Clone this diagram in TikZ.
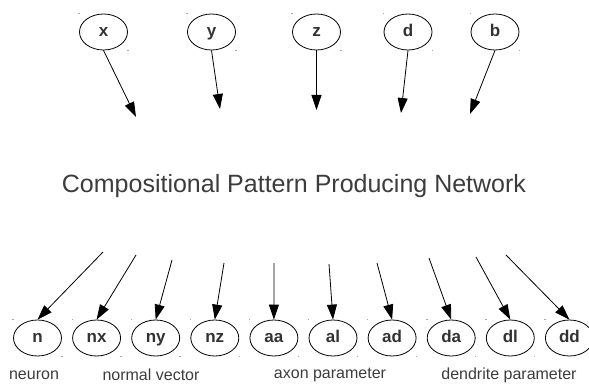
\documentclass[tikz,border=0pt]{standalone}
\usepackage{fontspec}
\setmainfont{Liberation Sans}
\usepackage{tikz}
\usetikzlibrary{positioning, arrows.meta, shapes.geometric}
\definecolor{txtColor}{RGB}{60,60,60}
\definecolor{nodeTxt}{RGB}{50,50,50}
\tikzset{
    paramnode/.style={
        ellipse,
        draw,
        line width=0.8pt,
        minimum width=48pt,
        minimum height=36pt,
        inner sep=0pt,
        text height=12pt,
        text depth=3.5pt,
        text=nodeTxt,
        font=\fontsize{17}{19}\selectfont\bfseries
    },
    ptr/.style={
        -{Triangle[length=15pt, width=10pt]},
        line width=0.8pt
    },
    grp/.style={
        text=txtColor,
        font=\fontsize{16}{18}\selectfont
    },
    cornerdot/.style={fill=gray!70}
}

\begin{document}
\begin{tikzpicture}[x=1pt, y=-1pt]
    \useasboundingbox (0,0) rectangle (589,385);

    % inputs
    \node[paramnode] (x) at (103.5,32) {x};
    \node[paramnode] (y) at (211.5,32) {y};
    \node[paramnode] (z) at (316.5,32) {z};
    \node[paramnode] (d) at (408,32) {d};
    \node[paramnode] (b) at (495,32) {b};

    \coordinate (xe) at (136,117);
    \coordinate (ye) at (220,109);
    \coordinate (ze) at (316.5,110);
    \coordinate (de) at (401,113);
    \coordinate (be) at (470,114);

    \draw[ptr] (x.south) -- (xe);
    \draw[ptr] (y.south) -- (ye);
    \draw[ptr] (z.south) -- (ze);
    \draw[ptr] (d.south) -- (de);
    \draw[ptr] (b.south) -- (be);

    \node[text=txtColor, font=\fontsize{25}{28}\selectfont] (cppn) at (294,186)
        {Compositional Pattern Producing Network};

    % outputs
    \node[paramnode] (n) at (37.5,338) {n};
    \node[paramnode, right=10.3pt of n] (nx) {nx};
    \node[paramnode, right=10.3pt of nx] (ny) {ny};
    \node[paramnode, right=10.3pt of ny] (nz) {nz};
    \node[paramnode, right=10.3pt of nz] (aa) {aa};
    \node[paramnode, right=10.3pt of aa] (al) {al};
    \node[paramnode, right=10.3pt of al] (ad) {ad};
    \node[paramnode, right=10.3pt of ad] (da) {da};
    \node[paramnode, right=10.3pt of da] (dl) {dl};
    \node[paramnode, right=10.3pt of dl] (dd) {dd};

    \coordinate (ns) at (103,252);
    \coordinate (nxs) at (136,255);
    \coordinate (nys) at (172,260);
    \coordinate (nzs) at (224,263);
    \coordinate (aas) at (274,263);
    \coordinate (als) at (329,264);
    \coordinate (ads) at (377,263);
    \coordinate (das) at (429,258);
    \coordinate (dls) at (476,257);
    \coordinate (dds) at (506,255);

    \foreach \o in {n, nx, ny, nz, aa, al, ad, da, dl, dd}
        \draw[ptr] (\o s) -- (\o.north);

    % little marks at the node box corners
    \foreach \o in {x, y, z, d, b, n, nx, ny, nz, aa, al, ad, da, dl, dd} {
        \fill[cornerdot] (\o.west |- \o.north) ++(-0.7,-0.7) rectangle ++(1.4,1.4);
        \fill[cornerdot] (\o.east |- \o.south) ++(-0.7,-0.7) rectangle ++(1.4,1.4);
    }

    % group labels
    \node[grp] (lneuron) at (34,375) {neuron};
    \node[grp] (lnormal) at (151,375) {normal vector};
    \node[grp] (laxon) at (330,375) {axon parameter};
    \node[grp] (ldend) at (509,375) {dendrite parameter};
\end{tikzpicture}
\end{document}
